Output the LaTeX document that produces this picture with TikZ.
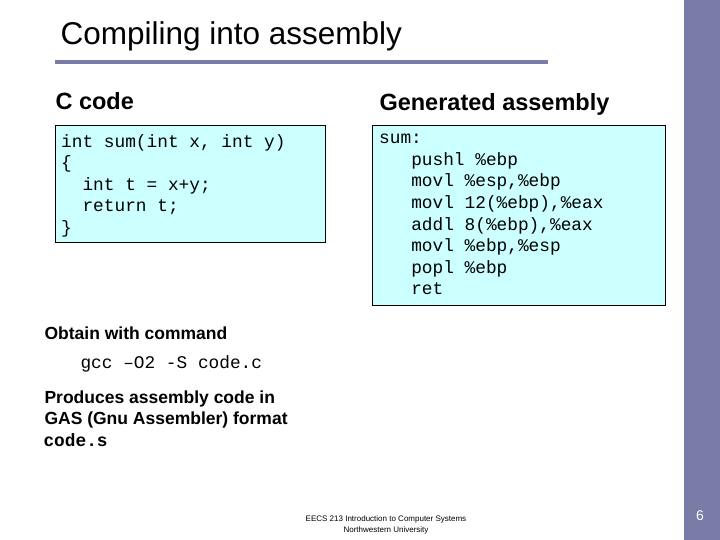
\documentclass[tikz,border=0pt]{standalone}
\usepackage{fontspec}
\setmainfont{Liberation Sans}
\setsansfont{Liberation Sans}
\setmonofont{Liberation Mono}
\usetikzlibrary{positioning}
\definecolor{barblue}{RGB}{123,123,168}
\definecolor{codecyan}{RGB}{204,255,255}
\begin{document}
\begin{tikzpicture}
		[   x=1pt,y=-1pt,
			codebox/.style={draw=black,line width=1.2pt,fill=codecyan,anchor=north west,inner sep=0pt},
			codetext/.style={anchor=north west,align=left,inner sep=0pt,font=\ttfamily\fontsize{17.8}{21.6}\selectfont},
			head/.style={anchor=west,font=\bfseries\fontsize{23.5}{28}\selectfont},
			body/.style={anchor=west,align=left,font=\bfseries\fontsize{17.5}{21}\selectfont},
		]
		\useasboundingbox (0,0) rectangle (720,540);
		\fill[barblue] (684,0) rectangle (720,540);
		\draw[barblue,line width=4pt] (55,62) -- (548,62);
		\node[anchor=west,font=\fontsize{31.5}{36}\selectfont] (title) at (57,36) {Compiling into assembly};
		
		\node[head] (chead) at (52,101) {C code};
		\node[head] (ahead) at (376,104) {Generated assembly};
		
		\node[codebox,minimum width=270,minimum height=117] (cbox) at (55,125) {};
		\node[codetext] (ctext) at (61,134)
		{int sum(int x, int y)\\\{\\\ \ int t = x+y;\\\ \ return t;\\\}};
		
		\node[codebox,minimum width=293,minimum height=180] (abox) at (372,125) {};
		\node[codetext] (atext) at (379,134)
		{sum:\\\ \ \ pushl \%ebp\\\ \ \ movl \%esp,\%ebp\\\ \ \ movl 12(\%ebp),\%eax\\\ \ \ addl 8(\%ebp),\%eax\\\ \ \ movl \%ebp,\%esp\\\ \ \ popl \%ebp\\\ \ \ ret};
		
		\node[body] (obtain) at (41,333) {Obtain with command};
		\node[anchor=west,font=\ttfamily\fontsize{17.8}{21}\selectfont] (cmd) at (77,364) {gcc –O2 -S code.c};
		\node[body] (produces) at (41,409) {Produces assembly code in\\GAS (Gnu Assembler) format};
		\node[anchor=west,font=\ttfamily\bfseries\fontsize{17.8}{21}\selectfont] (file) at (40,440) {code.s};
		
		\node[align=center,font=\fontsize{8}{11}\selectfont] (foot) at (386,525) {EECS 213 Introduction to Computer Systems\\Northwestern University};
		\node[white,font=\fontsize{14}{16}\selectfont] (page) at (700,516) {6};
\end{tikzpicture}
\end{document}
